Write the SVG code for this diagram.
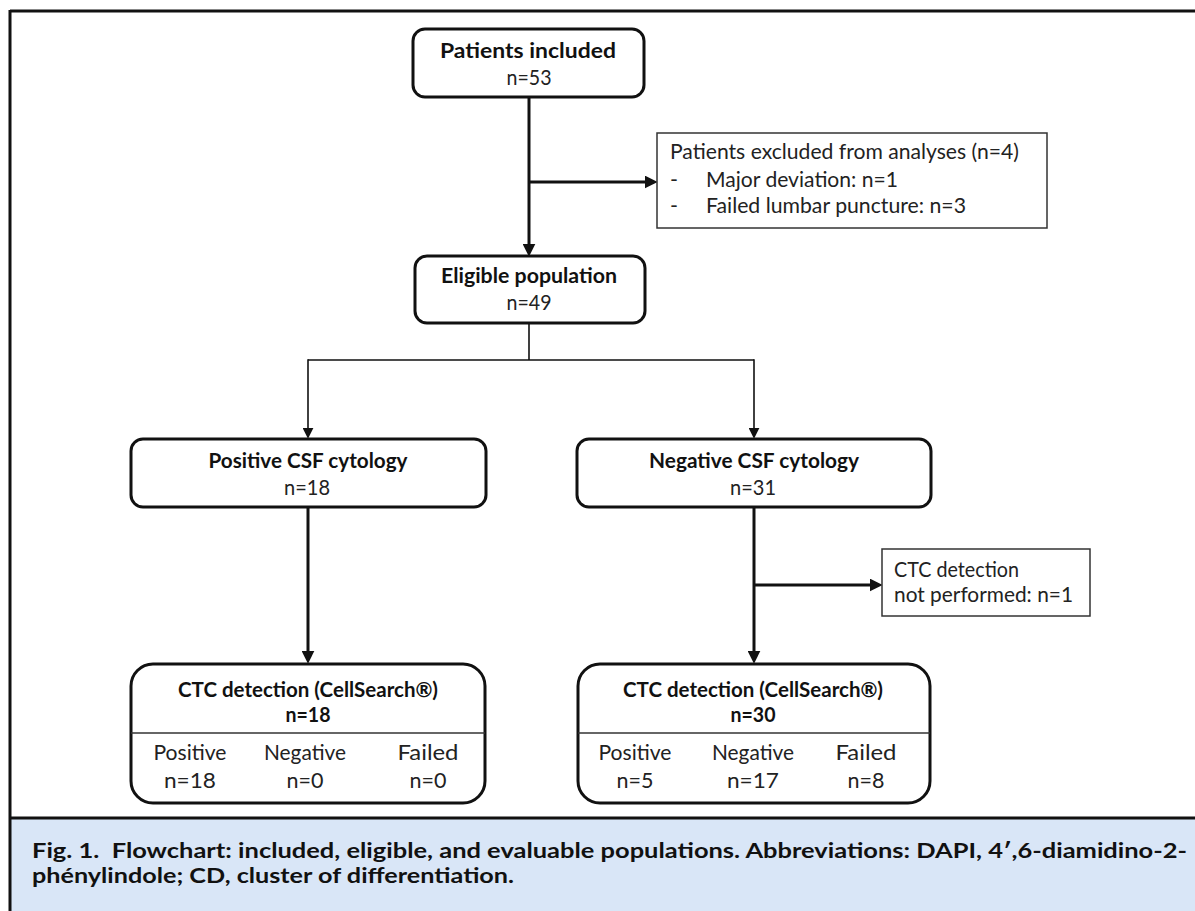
<svg xmlns="http://www.w3.org/2000/svg" width="1195" height="911" viewBox="0 0 1195 911">
<defs>
<style>
.box{fill:#fff;stroke:#111;stroke-width:3}
.thin{fill:#fff;stroke:#333;stroke-width:1.5}
.c{fill:none;stroke:#111;stroke-width:3}
.ct{fill:none;stroke:#111;stroke-width:1.6}
text{font-family:Lato,"Open Sans","Liberation Sans",sans-serif;font-size:21.5px;fill:#222}
.b{font-weight:bold;fill:#111}
.m{text-anchor:middle}
.cap{font-family:Lato,"Open Sans","Liberation Sans",sans-serif;font-weight:bold;font-size:21px;fill:#111}
</style>
<marker id="ah" markerUnits="userSpaceOnUse" viewBox="0 0 12 12" markerWidth="13" markerHeight="13" refX="4" refY="6" orient="auto">
<path d="M0,0 L12,6 L0,12 z" fill="#111"/>
</marker>
<marker id="ahs" markerUnits="userSpaceOnUse" viewBox="0 0 10 10" markerWidth="11" markerHeight="11" refX="3" refY="5" orient="auto">
<path d="M0,0 L10,5 L0,10 z" fill="#111"/>
</marker>
</defs>
<rect x="0" y="0" width="1195" height="911" fill="#fff"/>
<g id="frame">
<rect x="11" y="819" width="1184" height="92" fill="#d9e6f7"/>
<line x1="10" y1="11" x2="1195" y2="11" stroke="#111" stroke-width="3"/>
<line x1="10" y1="10" x2="10" y2="911" stroke="#111" stroke-width="3"/>
<line x1="10" y1="818" x2="1195" y2="818" stroke="#111" stroke-width="3"/>
</g>
<g id="connectors">
<path class="c" d="M529,97 V248" marker-end="url(#ah)"/>
<path class="c" d="M529,182 H649" marker-end="url(#ah)"/>
<path class="ct" d="M529,323 V360 M308,360 H754"/>
<path class="ct" d="M308,359.2 V431" marker-end="url(#ahs)"/>
<path class="ct" d="M754,359.2 V431" marker-end="url(#ahs)"/>
<path class="c" d="M308,507 V655" marker-end="url(#ah)"/>
<path class="c" d="M754,507 V655" marker-end="url(#ah)"/>
<path class="c" d="M754,585 H874" marker-end="url(#ah)"/>
</g>
<g id="patients-included">
<rect class="box" x="413" y="29" width="231" height="68" rx="12"/>
<text class="b m" x="528" y="58" textLength="176" lengthAdjust="spacingAndGlyphs">Patients included</text>
<text class="m" x="529" y="85" textLength="45" lengthAdjust="spacingAndGlyphs">n=53</text>
</g>
<g id="excluded">
<rect class="thin" x="657" y="133" width="390" height="95"/>
<text x="670" y="159" textLength="349" lengthAdjust="spacingAndGlyphs">Patients excluded from analyses (n=4)</text>
<text x="670" y="187">-</text>
<text x="706" y="187" textLength="192" lengthAdjust="spacingAndGlyphs">Major deviation: n=1</text>
<text x="670" y="213">-</text>
<text x="706" y="213" textLength="260" lengthAdjust="spacingAndGlyphs">Failed lumbar puncture: n=3</text>
</g>
<g id="eligible">
<rect class="box" x="415" y="256" width="230" height="67" rx="12"/>
<text class="b m" x="529" y="283" textLength="176" lengthAdjust="spacingAndGlyphs">Eligible population</text>
<text class="m" x="529" y="310" textLength="45" lengthAdjust="spacingAndGlyphs">n=49</text>
</g>
<g id="positive-csf">
<rect class="box" x="131" y="439" width="355" height="68" rx="12"/>
<text class="b m" x="308" y="468" textLength="199" lengthAdjust="spacingAndGlyphs">Positive CSF cytology</text>
<text class="m" x="307" y="495" textLength="46" lengthAdjust="spacingAndGlyphs">n=18</text>
</g>
<g id="negative-csf">
<rect class="box" x="577" y="439" width="354" height="68" rx="12"/>
<text class="b m" x="754" y="468" textLength="210" lengthAdjust="spacingAndGlyphs">Negative CSF cytology</text>
<text class="m" x="753" y="495" textLength="46" lengthAdjust="spacingAndGlyphs">n=31</text>
</g>
<g id="not-performed">
<rect class="thin" x="882" y="549" width="208" height="67"/>
<text x="894" y="577" textLength="125" lengthAdjust="spacingAndGlyphs">CTC detection</text>
<text x="894" y="602" textLength="179" lengthAdjust="spacingAndGlyphs">not performed: n=1</text>
</g>
<g id="ctc-positive">
<rect class="box" x="131" y="664" width="354" height="139" rx="22"/>
<line x1="131" y1="733" x2="485" y2="733" stroke="#333" stroke-width="1.6"/>
<text class="b m" x="308" y="697" textLength="260" lengthAdjust="spacingAndGlyphs">CTC detection (CellSearch®)</text>
<text class="b m" x="308" y="722" textLength="45" lengthAdjust="spacingAndGlyphs">n=18</text>
<text class="m" x="190" y="760" textLength="73" lengthAdjust="spacingAndGlyphs">Positive</text>
<text class="m" x="305" y="760" textLength="82" lengthAdjust="spacingAndGlyphs">Negative</text>
<text class="m" x="428" y="760" textLength="61" lengthAdjust="spacingAndGlyphs">Failed</text>
<text class="m" x="190" y="788" textLength="52" lengthAdjust="spacingAndGlyphs">n=18</text>
<text class="m" x="305" y="788">n=0</text>
<text class="m" x="428" y="788">n=0</text>
</g>
<g id="ctc-negative">
<rect class="box" x="578" y="664" width="352" height="139" rx="22"/>
<line x1="578" y1="733" x2="930" y2="733" stroke="#333" stroke-width="1.6"/>
<text class="b m" x="753" y="697" textLength="260" lengthAdjust="spacingAndGlyphs">CTC detection (CellSearch®)</text>
<text class="b m" x="753" y="722" textLength="45" lengthAdjust="spacingAndGlyphs">n=30</text>
<text class="m" x="635" y="760" textLength="73" lengthAdjust="spacingAndGlyphs">Positive</text>
<text class="m" x="753" y="760" textLength="82" lengthAdjust="spacingAndGlyphs">Negative</text>
<text class="m" x="866" y="760" textLength="61" lengthAdjust="spacingAndGlyphs">Failed</text>
<text class="m" x="635" y="788">n=5</text>
<text class="m" x="753" y="788" textLength="52" lengthAdjust="spacingAndGlyphs">n=17</text>
<text class="m" x="866" y="788">n=8</text>
</g>
<g id="caption">
<text class="cap" x="32" y="858" textLength="1155" lengthAdjust="spacingAndGlyphs" xml:space="preserve">Fig. 1.  Flowchart: included, eligible, and evaluable populations. Abbreviations: DAPI, 4′,6-diamidino-2-</text>
<text class="cap" x="32" y="883" textLength="482" lengthAdjust="spacingAndGlyphs">phénylindole; CD, cluster of differentiation.</text>
</g>
</svg>
